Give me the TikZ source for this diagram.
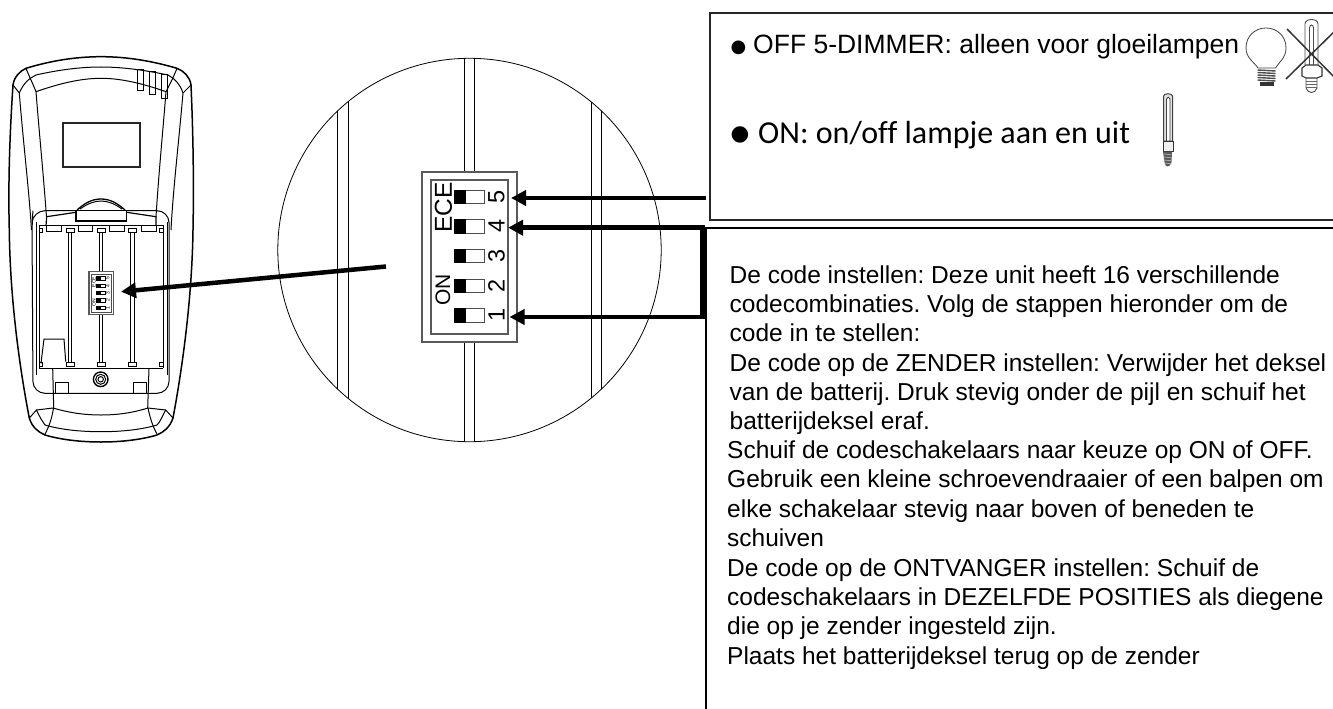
\documentclass[tikz,border=0pt]{standalone}
\usepackage{fontspec}
\setmainfont{Liberation Sans}
\newfontfamily\carl[Ligatures=NoCommon]{Carlito}
\newfontfamily\djv{DejaVu Sans}
\usetikzlibrary{arrows.meta}
\tikzset{
  x=1pt,y=-1pt,
  ln/.style={line width=1pt,black},
  thin1/.style={line width=0.8pt,black},
  frame/.style={line width=1.5pt,draw=black!85},
  gray1/.style={line width=1.2pt,draw=black!65},
  body/.style={anchor=base west,inner sep=0pt,font=\frenchspacing\fontsize{24.5}{26}\selectfont},
  offbody/.style={anchor=base west,inner sep=0pt,font=\frenchspacing\fontsize{26.5}{28}\selectfont},
  onbody/.style={anchor=base west,inner sep=0pt,font=\frenchspacing\carl\fontsize{32}{34}\selectfont},
  dot/.style={inner sep=0pt,font=\djv\fontsize{18}{20}\selectfont},
  big/.style={-{Triangle[length=15pt,width=15pt]},black},
  swr/.style={draw=black!70,line width=0.8pt,fill=white},
  digit/.style={rotate=90,inner sep=0pt,font=\fontsize{23.5}{24}\selectfont},
  tiny1/.style={rotate=90,inner sep=0pt,font=\fontsize{5}{5}\selectfont},
}
\begin{document}
\begin{tikzpicture}
\useasboundingbox (0,0) rectangle (1333,709);
% ---------- remote body
\draw[line width=1.5pt] (13,85) .. controls (14,77) and (20,71) .. (26,68.3)
  .. controls (50,61) and (75,56.7) .. (101,56.7)
  .. controls (127,56.7) and (152,61) .. (177,68.3)
  .. controls (184,71) and (190,77) .. (191,85)
  .. controls (193,130) and (194,180) .. (193,230)
  .. controls (192,300) and (182,370) .. (173,418)
  .. controls (170,427) and (164,432) .. (157,435)
  .. controls (140,440) and (120,442) .. (101,442)
  .. controls (82,442) and (62,440) .. (45,435)
  .. controls (38,432) and (32,427) .. (29.3,418)
  .. controls (20,370) and (10,300) .. (9.3,230)
  .. controls (8,180) and (10,130) .. (13,85) -- cycle;
\draw[ln] (19.3,93) .. controls (24,82) and (30,78) .. (36,75)
  .. controls (58,70) and (80,67) .. (101,67)
  .. controls (122,67) and (144,70) .. (168,75)
  .. controls (174,78) and (180,84) .. (183,93);
\draw[ln] (36,91.7) .. controls (58,84) and (80,78.3) .. (101,78.3)
  .. controls (122,78.3) and (144,84) .. (166,91.7);
\draw[ln] (26,68.3) .. controls (29,76) and (33,84) .. (36,91.7);
\draw[ln] (177,68.3) .. controls (174,76) and (170,84) .. (166,91.7);
\draw[ln] (13,85) -- (19.3,93);
\draw[ln] (191,85) -- (183,93);
\draw[ln] (19.3,93) .. controls (23,140) and (29,190) .. (31.5,230);
\draw[ln] (183,93) .. controls (179,140) and (173,190) .. (171,230);
\draw[ln] (36,91.7) .. controls (39,130) and (43,170) .. (46.5,216.7);
\draw[ln] (166,91.7) .. controls (163,130) and (159,170) .. (156,216.7);
% vents
\draw[ln] (137.7,70) rectangle (143.7,90.7);
\draw[ln] (149.7,71.7) rectangle (155.3,94);
\draw[ln] (161.3,75) rectangle (167.3,98.3);
% window
\draw[line width=1.8pt,black!85] (62.7,122.7) rectangle (140,167.3);
% bottom bands
\draw[ln] (29.3,418) -- (36.5,410) .. controls (40,418) and (43,422) .. (45,425)
  .. controls (62,430) and (82,431.7) .. (101,431.7)
  .. controls (120,431.7) and (140,430) .. (157,425)
  .. controls (160,422) and (162,417) .. (165.7,410) -- (173,418);
\draw[ln] (36.5,410) -- (53,408) .. controls (70,413) and (85,415) .. (101,415)
  .. controls (117,415) and (132,413) .. (148,408) -- (165.7,410);
\draw[ln] (53.5,408) .. controls (52,418) and (49,427) .. (44.5,435);
\draw[ln] (148,408) .. controls (150,418) and (153,427) .. (157,434);
% compartment
\draw[ln,rounded corners=12pt] (33,393.3) -- (32,222.7) -- (33,210.7) -- (169,210.7) -- (169,393.3) -- cycle;
\draw[ln] (36,222) -- (36,375);
\draw[ln] (167,222) -- (167,375);
\draw[ln] (39,368.3) -- (39,225.7) -- (163,225.7) -- (163,368.3);
\draw[ln] (39,368.3) -- (163,368.3);
\draw[line width=1.2pt] (46,225.7) -- (46.7,216.7) -- (76,212.3);
\draw[line width=1.2pt] (156,225.7) -- (156,216.7) -- (126.7,212.3);
\foreach \a/\b in {46.7/61,78/92.7,109/124,141/156}{\draw[ln] (\a,225.7) rectangle (\b,231.7);}
\foreach \c in {70,101,132.5}{
  \draw[ln] (\c-1.6,233) -- (\c-1.6,362);
  \draw[ln] (\c+1.6,233) -- (\c+1.6,362);
  \draw[ln,fill=white] (\c-4,228.5) rectangle (\c+4,232);
  \draw[ln,fill=white] (\c-4,362.5) rectangle (\c+4,366);
}
\draw[ln] (39,228.5) rectangle (42.7,232);
\draw[ln] (159.3,228.5) rectangle (163,232);
\draw[ln] (39,362.5) rectangle (42.7,366);
\draw[ln] (159.3,362.5) rectangle (163,366);
% cover piece
\draw[line width=1.3pt,fill=white] (76,210.3) rectangle (126.7,221);
\draw[line width=1.3pt] (77,210) .. controls (85,203) and (92,199) .. (101,199) .. controls (110,199) and (117,203) .. (125,210);
\draw[ln] (80,209) .. controls (87,204) and (94,201) .. (101,201) .. controls (108,201) and (115,204) .. (122,209);
% clip and bottom
\draw[ln] (41,363.3) -- (44,339) -- (64,339) -- (65.7,361.7);
\draw[ln] (52.7,368.3) -- (53.7,408);
\draw[ln] (149,368.3) -- (147.7,408);
\draw[ln] (55.3,393) -- (55.3,382.7) -- (68.7,382.7) -- (68.7,393);
\draw[ln] (133.3,393) -- (133.3,382.7) -- (146.7,382.7) -- (146.7,393);
\draw[line width=1.4pt] (100.7,379.3) circle[radius=7.3pt];
\draw[ln] (100.7,379.3) circle[radius=5pt];
\draw[ln] (100.7,379.3) circle[radius=2.7pt];
% mini dip
\draw[gray1,fill=white] (89,271.7) rectangle (113.7,314.3);
\draw[ln,black!70] (91,274) rectangle (111.7,312.7);
\foreach \y/\t in {278.3/5,285.7/4,293/3,300.3/2,307.7/1}{
  \draw[thin1,fill=white] (96.7,\y-1.8) rectangle (105,\y+1.8);
  \fill (96.7,\y-2) rectangle (100.7,\y+2);
  \node[tiny1] (mini\t) at (107.8,\y) {\t};
}
\node[tiny1] (miniece) at (94,282) {ECE};
\node[tiny1] (minion) at (94,303) {ON};
% ---------- zoom circle
\coordinate (cc) at (469.5,250);
\begin{scope}
\clip (cc) circle[radius=191.7pt];
\foreach \x in {337.7,348,464.3,474.3,591.3,601.3}{\draw[thin1] (\x,50) -- (\x,450);}
\end{scope}
\draw[thin1] (cc) circle[radius=191.7pt];
% big dip
\draw[gray1,fill=white] (422,172) rectangle (517,342);
\draw[gray1] (431,180) rectangle (508,334);
\foreach \y/\t in {197/5,226.3/4,256/3,285.7/2,315.3/1}{
  \draw[swr] (465,\y-6.7) rectangle (484.3,\y+6.7);
  \fill (453.7,\y-7.2) rectangle (465.7,\y+7.2);
  \node[digit] (d\t) at (496.5,\y) {\t};
}
\node[digit,font=\fontsize{24.5}{25}\selectfont] (ece) at (443.5,207.5) {ECE};
\node[digit,font=\fontsize{21}{22}\selectfont] (on) at (443,290) {ON};
% ---------- arrows
\coordinate (a0) at (386,266.5);
\coordinate (a0t) at (121,291.7);
\draw[big,line width=4.5pt] (a0) -- (a0t);
\coordinate (a5) at (706,198);
\coordinate (a5t) at (511,198);
\coordinate (a4t) at (508,227.7);
\coordinate (a1t) at (509.5,317);
\coordinate (corner) at (702.7,227.7);
\coordinate (corner2) at (702.7,317);
\draw[big,line width=4.5pt] (a5) -- (a5t);
\draw[big,line width=4.5pt] (corner) -- (a4t);
\draw[big,line width=3.6pt] (corner2) -- (a1t);
\draw[line width=5pt] (702.7,225.4) -- (702.7,318.8);
% ---------- boxes
\draw[frame] (1340,13) -- (710,13) -- (710,220) -- (1340,220);
\draw[line width=1.7pt] (706,709) -- (706,228) -- (1340,228);
% ---------- box texts
\node[dot] (b1) at (738.5,47.5) {●};
\node[offbody] (t1) at (753,54) {OFF 5-DIMMER: alleen voor gloeilampen};
\node[dot,font=\djv\fontsize{21.5}{22}\selectfont] (b2) at (740,135) {●};
\node[onbody] (t2) at (758,143) {ON: on/off lampje aan en uit};
\node[body] (l1) at (729.5,283.3) {De code instellen: Deze unit heeft 16 verschillende};
\node[body] (l2) at (729.5,312.5) {codecombinaties. Volg de stappen hieronder om de};
\node[body] (l3) at (729.5,341.8) {code in te stellen:};
\node[body] (l4) at (729.5,371) {De code op de ZENDER instellen: Verwijder het deksel};
\node[body] (l5) at (729.5,400.2) {van de batterij. Druk stevig onder de pijl en schuif het};
\node[body] (l6) at (729.5,429.5) {batterijdeksel eraf.};
\node[body] (l7) at (727,458.7) {Schuif de codeschakelaars naar keuze op ON of OFF.};
\node[body] (l8) at (727,487.9) {Gebruik een kleine schroevendraaier of een balpen om};
\node[body] (l9) at (727,517.2) {elke schakelaar stevig naar boven of beneden te};
\node[body] (l10) at (727,546.4) {schuiven};
\node[body] (l11) at (727,576) {De code op de ONTVANGER instellen: Schuif de};
\node[body] (l12) at (727,605.5) {codeschakelaars in DEZELFDE POSITIES als diegene};
\node[body] (l13) at (727,634.8) {die op je zender ingesteld zijn.};
\node[body] (l14) at (727,664) {Plaats het batterijdeksel terug op de zender};
% ---------- bulbs
\draw[line width=0.8pt,black!75] (1258,68) .. controls (1254,62) and (1246,58) .. (1246,48)
  .. controls (1246,36) and (1255,28) .. (1266,28) .. controls (1277,28) and (1286,36) .. (1286,48)
  .. controls (1286,58) and (1279,62) .. (1275.5,68) -- cycle;
\foreach \y in {70,72.5,75,77.5,80}{\draw[line width=1.4pt,black!70] (1257.5,\y) -- (1275.5,\y+1);}
\fill[black!80] (1260,82) rectangle (1274,86);
\draw[line width=0.9pt,black!70] (1305,65) -- (1305,24) .. controls (1305,18) and (1318,18) .. (1318,24) -- (1318,65);
\draw[line width=0.9pt,black!70] (1309.5,65) -- (1309.5,28) .. controls (1309.5,24) and (1313.5,24) .. (1313.5,28) -- (1313.5,65);
\draw[line width=1.1pt,black!80,fill=white] (1302,68) -- (1306,65) -- (1318,65) -- (1322,68) -- (1322,76) -- (1317,78) -- (1306,78) -- (1302,76) -- cycle;
\draw[line width=0.9pt,black!70] (1306,78) -- (1306,88) .. controls (1308,94) and (1315,94) .. (1317,88) -- (1317,78);
\foreach \y in {81,84,87}{\draw[line width=0.8pt,black!60] (1306,\y) -- (1317,\y);}
\draw[line width=1.5pt,black!80] (1287,29) -- (1340,83);
\draw[line width=1.5pt,black!80] (1286,79) -- (1340,26);
% lamp 2
\draw[line width=1pt,black!75,fill=black!12] (1163.5,141) -- (1163.5,96) .. controls (1164,93) and (1172,93) .. (1172.5,96) -- (1172.5,141) -- cycle;
\draw[line width=0.8pt,black!75,fill=white] (1166.5,141) -- (1166.5,99) .. controls (1167,96.5) and (1169.5,96.5) .. (1170,99) -- (1170,141) -- cycle;
\draw[line width=0.9pt,black!80,fill=yellow!10!black!8] (1163,141) rectangle (1173,151.5);
\fill[black!65] (1163,151.5) -- (1172,151.5) -- (1171.5,162) .. controls (1170,168) and (1165,168) .. (1164.5,162) -- cycle;
\foreach \y in {154,157,160,163}{\draw[line width=0.7pt,white!70!black] (1164,\y) -- (1171.5,\y+0.8);}
\end{tikzpicture}
\end{document}
